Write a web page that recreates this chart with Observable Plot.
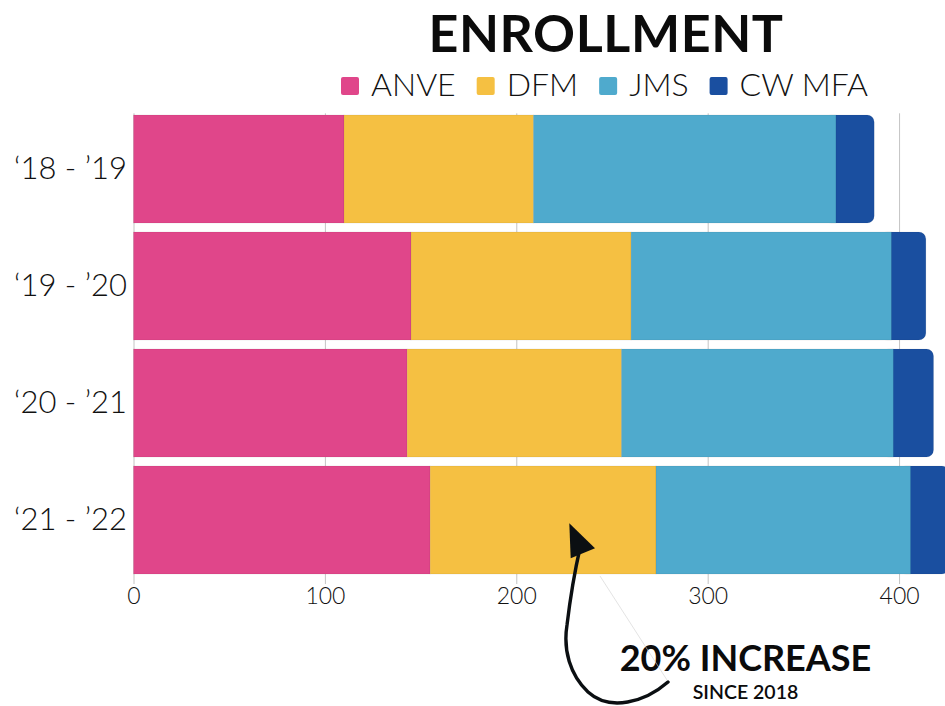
<!DOCTYPE html>
<html>
<head>
<meta charset="utf-8">
<script src="https://cdn.jsdelivr.net/npm/d3@7"></script>
<script src="https://cdn.jsdelivr.net/npm/@observablehq/plot@0.6"></script>
<style>
  html, body { margin: 0; padding: 0; background: #fff; overflow: hidden; }
  #wrap { position: relative; width: 945px; height: 706px; }
  #wrap > svg.overlay { position: absolute; left: 0; top: 0; pointer-events: none; }
</style>
</head>
<body>
<div id="wrap"></div>
<script>
// ---- data ----
const years = ["‘18 - ’19", "‘19 - ’20", "‘20 - ’21", "‘21 - ’22"];
const programs = ["ANVE", "DFM", "JMS", "CW MFA"];
const programColors = ["#E0468A", "#F5C042", "#4FAACD", "#1A4FA0"];
const anve  = [110, 145, 143, 155];
const dfm   = [99, 115, 112, 118];
const jms   = [158, 136, 142, 133];
const cwMfa = [20, 18, 21, 20];
const xTicks = [0, 100, 200, 300, 400];
const titleText = "ENROLLMENT";
const noteText = "20% INCREASE";
const noteSubText = "SINCE 2018";

// ---- tables built from the arrays ----
const stackedRows = [];
years.forEach((yr, i) => {
  [anve, dfm, jms].forEach((arr, k) => stackedRows.push({year: yr, program: programs[k], value: arr[i]}));
});
const capRows = years.map((yr, i) => {
  const start = anve[i] + dfm[i] + jms[i];
  return {year: yr, program: programs[3], start, end: start + cwMfa[i]};
});

const FONT = "Lato, 'Open Sans', sans-serif";

const chart = Plot.plot({
  width: 945,
  height: 706,
  marginTop: 104.6,
  marginBottom: 122,
  marginLeft: 133.5,
  marginRight: 0,
  x: {domain: [0, 424]},
  y: {domain: years, padding: 0.074},
  color: {domain: programs, range: programColors},
  style: {fontFamily: FONT, color: "#111", background: "transparent", overflow: "visible"},
  marks: [
    Plot.gridX(xTicks, {stroke: "#c4c4c4", strokeOpacity: 1, strokeWidth: 1, insetTop: 8.7}),
    // rounded end cap segment (extends under JMS so only its right corners show rounded)
    Plot.barX(capRows, {x1: d => d.start - 6, x2: "end", y: "year", fill: "program", rx: 7,
                        stroke: "#000", strokeOpacity: 0.08, strokeWidth: 0.8}),
    Plot.barX(stackedRows, Plot.stackX({x: "value", y: "year", fill: "program",
                        stroke: "#000", strokeOpacity: 0.08, strokeWidth: 0.8})),
    Plot.axisX(xTicks, {tickSize: 0, tickPadding: 3, fontSize: 23, fontWeight: 300, label: null, fill: "#111"}),
    Plot.axisY({tickSize: 0, tickPadding: 63.5, textAnchor: "middle", fontSize: 31, fontWeight: 300, label: null, fill: "#111"})
  ]
});

const wrap = document.getElementById("wrap");
wrap.appendChild(chart);

// ---- overlay: title, legend, annotation ----
const ov = d3.select(wrap).append("svg")
  .attr("class", "overlay")
  .attr("width", 945).attr("height", 706)
  .style("font-family", FONT);

ov.append("text")
  .attr("x", 606).attr("y", 52)
  .attr("text-anchor", "middle")
  .attr("font-size", 52).attr("font-weight", 700)
  .attr("letter-spacing", 0.6)
  .attr("fill", "#0b0b0b")
  .text(titleText);

// legend
let lx = 341;
programs.forEach((p, i) => {
  ov.append("rect")
    .attr("x", lx).attr("y", 77).attr("width", 18).attr("height", 18).attr("rx", 2)
    .attr("fill", programColors[i]);
  const t = ov.append("text")
    .attr("x", lx + 18 + 12).attr("y", 96)
    .attr("font-size", 32).attr("font-weight", 300).attr("fill", "#111")
    .text(p);
  lx = lx + 18 + 12 + t.node().getComputedTextLength() + 21;
});

// annotation text
ov.append("text")
  .attr("x", 745.5).attr("y", 671)
  .attr("text-anchor", "middle")
  .attr("font-size", 36).attr("font-weight", 700).attr("fill", "#0b0b0b")
  .text(noteText);
ov.append("text")
  .attr("x", 745.5).attr("y", 699)
  .attr("text-anchor", "middle")
  .attr("font-size", 19.5).attr("font-weight", 600).attr("fill", "#0b0b0b")
  .text(noteSubText);

// faint guide line
ov.append("line")
  .attr("x1", 600).attr("y1", 576).attr("x2", 667).attr("y2", 680)
  .attr("stroke", "#d0d0d0").attr("stroke-width", 0.6);

// curved arrow
ov.append("path")
  .attr("d", "M668,682 C645,702 610,712 588,692 C570,675 563,650 567,625 C570,600 575,570 580,548")
  .attr("fill", "none").attr("stroke", "#0b0f12").attr("stroke-width", 3.4).attr("stroke-linecap", "round");
ov.append("path")
  .attr("d", "M569.3,523.3 L570.7,558.3 L595,548.3 Z")
  .attr("fill", "#0b0f12");
</script>
</body>
</html>
